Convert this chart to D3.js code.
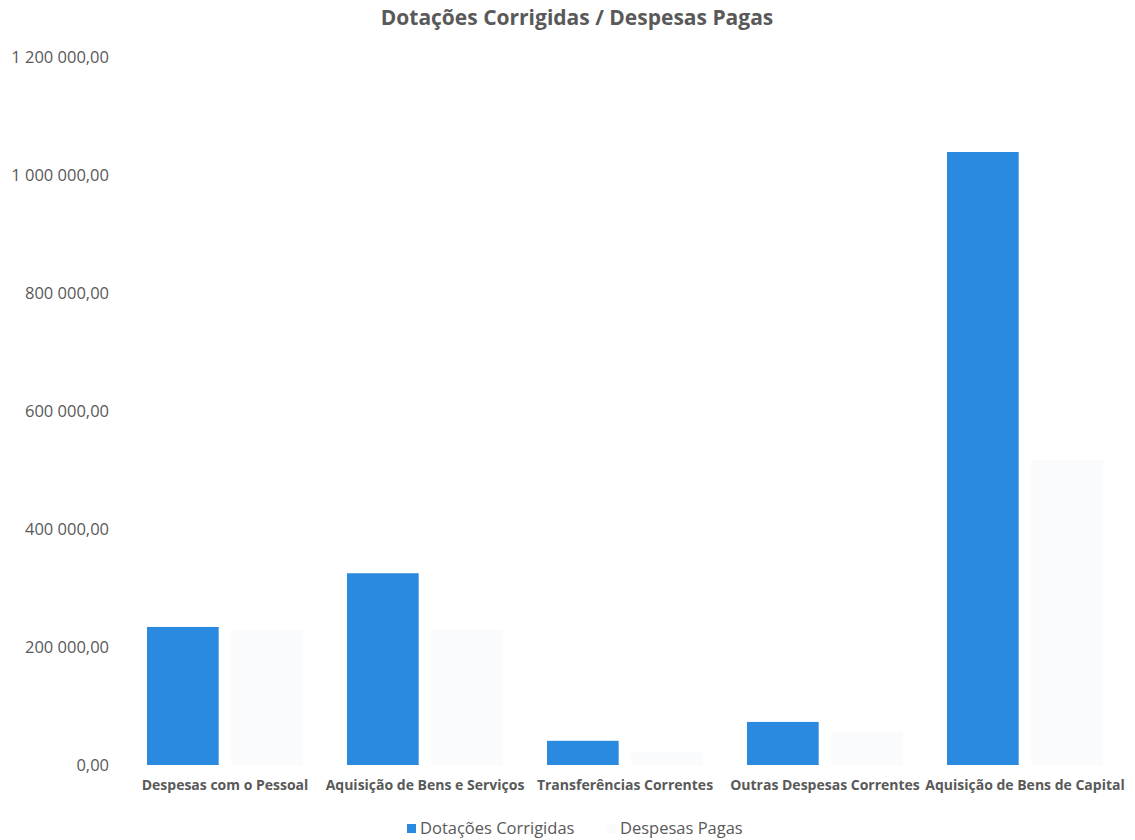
<!DOCTYPE html>
<html>
<head>
<meta charset="utf-8">
<script src="https://cdn.jsdelivr.net/npm/d3@7"></script>
<style>
  body { margin: 0; background: #fff; }
  text { font-family: "Open Sans", "Noto Sans", sans-serif; fill: #595959; }
</style>
</head>
<body>
<svg id="chart" width="1135" height="840"></svg>
<script>
const categories = ['Despesas com o Pessoal', 'Aquisição de Bens e Serviços', 'Transferências Correntes', 'Outras Despesas Correntes', 'Aquisição de Bens de Capital'];
const dotacoesCorrigidas = [234000, 325000, 41000, 73000, 1039000];
const despesasPagas = [228000, 230000, 22000, 57000, 517000];
const seriesNames = ['Dotações Corrigidas', 'Despesas Pagas'];
const seriesColors = ['#2a8ae0', '#fafbfc'];
const yTicks = [0, 200000, 400000, 600000, 800000, 1000000, 1200000];

const svg = d3.select('#chart');
const margin = { top: 57, right: 10, bottom: 75, left: 125 };
const height = 765 - margin.top;

const locale = d3.formatLocale({ decimal: ',', thousands: ' ', grouping: [3], currency: ['', ''] });
const fmt = locale.format(',.2f');

const x0 = d3.scaleBand().domain(categories).range([0, 1000]).paddingInner(0.22).paddingOuter(0.11);
const x1 = d3.scaleBand().domain(seriesNames).range([0, x0.bandwidth()]).paddingInner(0.15);
const y = d3.scaleLinear().domain([0, 1200000]).range([height, 0]);

const g = svg.append('g').attr('transform', `translate(${margin.left}, ${margin.top})`);

// title
svg.append('text')
    .attr('x', 577).attr('y', 25)
    .attr('text-anchor', 'middle')
    .style('font-size', '21px').style('font-weight', 'bold')
    .text('Dotações Corrigidas / Despesas Pagas');

// y axis
const yAxis = g.append('g')
    .attr('transform', 'translate(-13, 0)')
    .call(d3.axisLeft(y).tickValues(yTicks).tickFormat(fmt).tickSize(0));
yAxis.select('.domain').remove();
yAxis.selectAll('text').style('font-size', '16.5px').attr('fill', '#595959');

// bars
const data = categories.map((c, i) => ({ category: c, values: [dotacoesCorrigidas[i], despesasPagas[i]] }));
const groups = g.selectAll('.grp').data(data).enter().append('g')
    .attr('class', 'grp')
    .attr('transform', d => `translate(${x0(d.category)}, 0)`);

groups.selectAll('rect')
    .data(d => d.values.map((v, j) => ({ name: seriesNames[j], value: v, color: seriesColors[j] })))
    .enter().append('rect')
    .attr('x', d => x1(d.name))
    .attr('y', d => y(d.value))
    .attr('width', x1.bandwidth())
    .attr('height', d => height - y(d.value))
    .attr('fill', d => d.color);

// x axis
const xAxis = g.append('g')
    .attr('transform', `translate(0, ${height})`)
    .call(d3.axisBottom(x0).tickSize(0));
xAxis.select('.domain').remove();
xAxis.selectAll('text')
    .attr('dy', '1.55em')
    .attr('fill', '#595959')
    .style('font-size', '14px').style('font-weight', 'bold');

// legend
const legend = svg.append('g').attr('transform', 'translate(407, 829)');
legend.append('rect').attr('x', 0).attr('y', -5).attr('width', 9).attr('height', 9).attr('fill', seriesColors[0]);
legend.append('text').attr('x', 13).attr('y', 0).attr('dy', '0.32em').style('font-size', '16.5px').text(seriesNames[0]);
legend.append('rect').attr('x', 200).attr('y', -5).attr('width', 9).attr('height', 9).attr('fill', seriesColors[1]);
legend.append('text').attr('x', 213).attr('y', 0).attr('dy', '0.32em').style('font-size', '16.5px').text(seriesNames[1]);
</script>
</body>
</html>
